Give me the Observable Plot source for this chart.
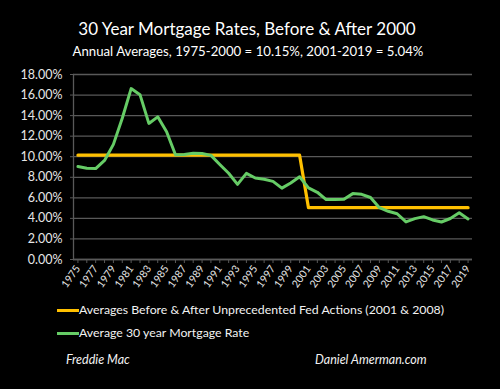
<!DOCTYPE html>
<html>
<head>
<meta charset="utf-8">
<script src="https://cdn.jsdelivr.net/npm/d3@7"></script>
<script src="https://cdn.jsdelivr.net/npm/@observablehq/plot@0.6"></script>
<style>
  html, body { margin: 0; padding: 0; background: #000; }
  body { width: 500px; height: 389px; overflow: hidden; font-family: Lato, "Open Sans", sans-serif; color: #fff; }
  #wrap { position: relative; width: 500px; height: 389px; }
  .t { position: absolute; white-space: nowrap; line-height: 1; }
  .sw { position: absolute; height: 3px; width: 22px; }
</style>
</head>
<body>
<div id="wrap">
  <div class="t" id="title" style="left:0;width:494px;text-align:center;top:20px;font-size:17px;">30 Year Mortgage Rates, Before &amp; After 2000</div>
  <div class="t" id="sub" style="left:0;width:496px;text-align:center;top:45px;font-size:13.2px;">Annual Averages, 1975-2000 = 10.15%, 2001-2019 = 5.04%</div>
  <div id="chart" style="position:absolute;left:0;top:62px;"></div>
  <div class="sw" style="left:57px;top:309px;background:#ffc000;"></div>
  <div class="t" style="left:79px;top:304px;font-size:12.3px;color:#f2f2f2;">Averages Before &amp; After Unprecedented Fed Actions (2001 &amp; 2008)</div>
  <div class="sw" style="left:57px;top:332px;background:#66cc66;"></div>
  <div class="t" style="left:79px;top:327px;font-size:12.3px;color:#f2f2f2;">Average 30 year Mortgage Rate</div>
  <div class="t" style="left:66px;top:354px;font-size:12.5px;font-style:italic;color:#f2f2f2;">Freddie Mac</div>
  <div class="t" style="left:315px;top:354px;font-size:12.5px;font-style:italic;color:#f2f2f2;">Daniel Amerman.com</div>
</div>
<script>
const years = [1975,1976,1977,1978,1979,1980,1981,1982,1983,1984,1985,1986,1987,1988,1989,1990,1991,1992,1993,1994,1995,1996,1997,1998,1999,2000,2001,2002,2003,2004,2005,2006,2007,2008,2009,2010,2011,2012,2013,2014,2015,2016,2017,2018,2019];
const mortgageRate = [9.05,8.87,8.85,9.64,11.20,13.74,16.63,16.04,13.24,13.88,12.43,10.19,10.21,10.34,10.32,10.13,9.25,8.39,7.31,8.38,7.93,7.81,7.60,6.94,7.44,8.05,6.97,6.54,5.83,5.84,5.87,6.41,6.34,6.03,5.04,4.69,4.45,3.66,3.98,4.17,3.85,3.65,3.99,4.54,3.94];
const periodAverage = [10.15,10.15,10.15,10.15,10.15,10.15,10.15,10.15,10.15,10.15,10.15,10.15,10.15,10.15,10.15,10.15,10.15,10.15,10.15,10.15,10.15,10.15,10.15,10.15,10.15,10.15,5.04,5.04,5.04,5.04,5.04,5.04,5.04,5.04,5.04,5.04,5.04,5.04,5.04,5.04,5.04,5.04,5.04,5.04,5.04];
const yTicks = [0,2,4,6,8,10,12,14,16,18];
const xLabelYears = [1975,1977,1979,1981,1983,1985,1987,1989,1991,1993,1995,1997,1999,2001,2003,2005,2007,2009,2011,2013,2015,2017,2019];

const rateData = years.map((y, i) => ({year: y, value: mortgageRate[i]}));
const avgData = years.map((y, i) => ({year: y, value: periodAverage[i]}));

const grid = "#595959";
const chart = Plot.plot({
  width: 500,
  height: 233,
  marginLeft: 73,
  marginRight: 28,
  marginTop: 12,
  marginBottom: 36,
  style: {background: "transparent", color: "#e6e6e6", fontFamily: "Lato, 'Open Sans', sans-serif"},
  x: {type: "point", domain: years, padding: 0.5},
  y: {domain: [0, 18]},
  marks: [
    Plot.gridY(yTicks, {stroke: grid, strokeOpacity: 1, strokeWidth: 1.3}),
    Plot.frame({anchor: "left", stroke: grid, strokeWidth: 1.3}),
    Plot.ruleY([0], {stroke: grid, strokeWidth: 1.3}),
    Plot.axisY({ticks: yTicks, tickFormat: d => d.toFixed(2) + "%", tickSize: 3, tickPadding: 8, stroke: grid, fontSize: 12.5, fill: "#e6e6e6", label: null}),
    Plot.axisX({ticks: years, tickFormat: d => xLabelYears.includes(d) ? String(d) : "", tickRotate: -55, tickSize: 4, tickPadding: 3, stroke: grid, fontSize: 10.5, fill: "#e6e6e6", label: null}),
    Plot.line(avgData, {x: "year", y: "value", stroke: "#ffc000", strokeWidth: 3.2}),
    Plot.line(rateData, {x: "year", y: "value", stroke: "#66cc66", strokeWidth: 3})
  ]
});
document.getElementById("chart").appendChild(chart);
</script>
</body>
</html>
